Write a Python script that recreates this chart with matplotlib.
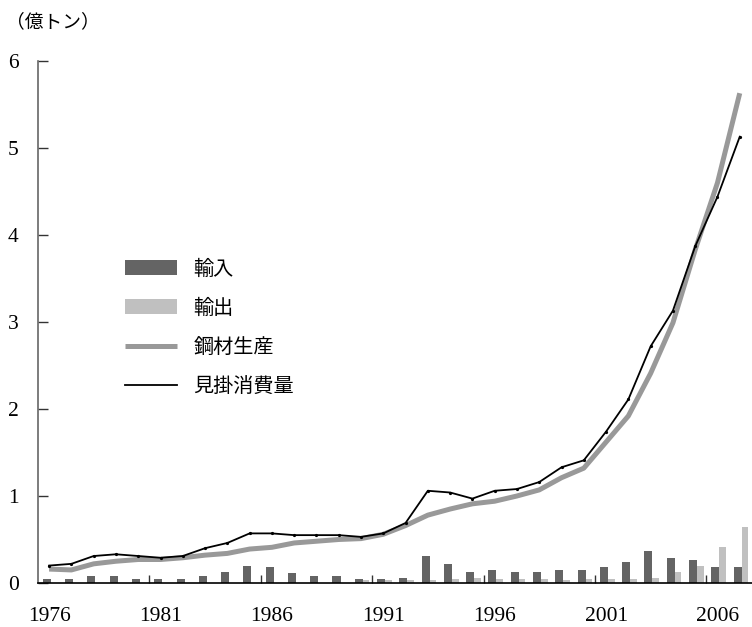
import matplotlib
matplotlib.use('Agg')
import matplotlib.pyplot as plt
import numpy as np

plt.rcParams['font.family'] = ['Liberation Serif', 'Noto Sans CJK JP']

# years 1976-2007
years = np.arange(1976, 2008)

# imports / exports (億トン)
imports = [0.05, 0.05, 0.08, 0.08, 0.05, 0.05, 0.05, 0.08, 0.13, 0.20, 0.18,
           0.11, 0.08, 0.08, 0.05, 0.05, 0.06, 0.31, 0.22, 0.13, 0.15, 0.13,
           0.13, 0.15, 0.15, 0.18, 0.24, 0.37, 0.29, 0.26, 0.18, 0.18]
exports = [0.0, 0.0, 0.0, 0.0, 0.0, 0.0, 0.0, 0.0, 0.0, 0.0, 0.0,
           0.0, 0.0, 0.0, 0.03, 0.03, 0.03, 0.03, 0.05, 0.06, 0.05, 0.05,
           0.05, 0.03, 0.05, 0.05, 0.05, 0.06, 0.13, 0.20, 0.41, 0.64]

# steel production and apparent consumption
production = [0.16, 0.15, 0.22, 0.25, 0.27, 0.27, 0.29, 0.32, 0.34, 0.39, 0.41,
              0.46, 0.48, 0.50, 0.51, 0.56, 0.66, 0.78, 0.85, 0.91, 0.94, 1.00,
              1.07, 1.21, 1.32, 1.62, 1.92, 2.41, 2.99, 3.83, 4.60, 5.63]
consumption = [0.20, 0.22, 0.31, 0.33, 0.31, 0.29, 0.31, 0.40, 0.46, 0.57, 0.57,
               0.55, 0.55, 0.55, 0.53, 0.57, 0.69, 1.06, 1.04, 0.97, 1.06, 1.08,
               1.16, 1.33, 1.41, 1.74, 2.11, 2.72, 3.13, 3.87, 4.44, 5.13]

label_years = [1976, 1981, 1986, 1991, 1996, 2001, 2006]
labels = ['輸入', '輸出', '鋼材生産', '見掛消費量']

fig = plt.figure(figsize=(7.52, 6.27), dpi=100)
ax = fig.add_axes([0.0505, 0.0702, 0.9495, 0.8325])

# bars: import left, export right of each year
b1 = ax.bar(years - 0.28, imports, width=0.36, align='edge', color='#646464', zorder=2)
b2 = ax.bar(years + 0.08, exports, width=0.30, align='edge', color='#c0c0c0', zorder=2)

# lines
l1, = ax.plot(years, production, color='#999999', lw=3.6, zorder=3, solid_capstyle='butt')
l2, = ax.plot(years, consumption, color='black', lw=1.3, zorder=4)
ax.plot(years, consumption, ls='none', marker='o', markersize=1.3, color='black', zorder=4)

ax.set_xlim(1975.5, 2007.55)
ax.set_ylim(0, 6)

ax.spines['top'].set_visible(False)
ax.spines['right'].set_visible(False)
ax.spines['left'].set_color('#666666')
ax.spines['left'].set_linewidth(1.2)
ax.spines['bottom'].set_color('black')
ax.spines['bottom'].set_linewidth(1.2)

ax.set_yticks(range(0, 7))
ax.tick_params(axis='y', direction='in', length=7, width=1, color='#333333', labelsize=15.5, pad=14)
ax.set_xticks(label_years)
ax.set_xticks(np.arange(1980.5, 2006, 5), minor=True)
ax.tick_params(axis='x', which='major', length=0, labelsize=15.5, pad=17)
ax.tick_params(axis='x', which='minor', direction='in', length=6, width=1, color='#333333')

fig.text(0.008, 0.965, '（億トン）', fontsize=13.5, ha='left', va='center')

ax.legend([b1, b2, l1, l2], labels, loc='upper left', bbox_to_anchor=(0.166, 0.585),
          bbox_transform=fig.transFigure, frameon=False, fontsize=14.5, handlelength=2.6,
          handleheight=0.75, handletextpad=0.8, labelspacing=0.98, borderpad=0, borderaxespad=0)

fig.savefig('out.png', dpi=100)
